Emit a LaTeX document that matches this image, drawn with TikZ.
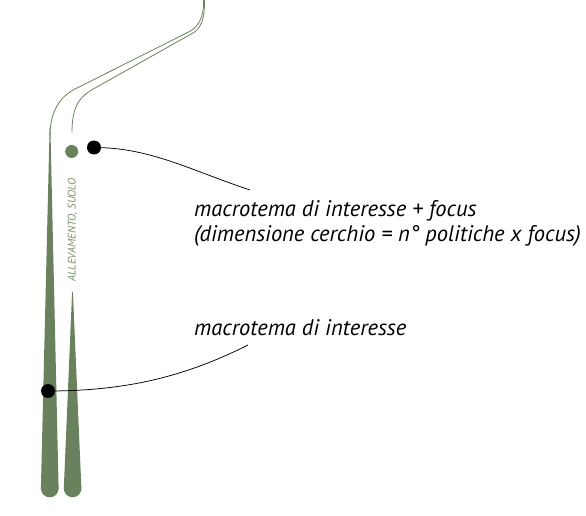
\documentclass[tikz,border=0pt]{standalone}
\usepackage{fontspec}
\setmainfont{PT Sans}
\definecolor{leaf}{RGB}{106,129,94}
\definecolor{leaflight}{RGB}{122,144,110}
\begin{document}
\begin{tikzpicture}[x=1pt,y=-1pt,
  stem/.style={draw=leaf, line width=0.8pt},
  taper/.style={fill=leaf},
  blackdot/.style={circle, fill=black, inner sep=0pt, minimum size=14pt},
  focusdot/.style={circle, fill=leaf, inner sep=0pt, minimum size=13pt},
  lead/.style={draw=black, line width=0.75pt},
  label/.style={font=\fontsize{22.5}{27}\selectfont\itshape, anchor=base west, inner sep=0pt},
  vlabel/.style={font=\fontsize{11}{13}\selectfont\itshape, text=leaflight, rotate=90, inner sep=0pt}]
\useasboundingbox (0,0) rectangle (586,516);
% outer stem (thin part)
\draw[stem] (203.5,-2) -- (203.5,4) .. controls (203.5,17) and (198,27.5) .. (189,31.8)
  -- (75,89) .. controls (60,96.5) and (50,112) .. (50,135);
% inner stem (thin part)
\draw[stem] (204.5,-2) -- (204.5,4) .. controls (204.5,19) and (200.5,29) .. (193,33)
  -- (96,87.5) .. controls (80,96) and (72,105) .. (72,132.5);
% outer taper
\fill[taper] (49.6,128) -- (50.4,128) -- (58.6,488.5) -- (40.9,488.5) -- cycle;
\fill[taper] (49.75,488.5) circle (8.85pt);
% inner taper
\fill[taper] (72.1,292) -- (72.9,292) -- (81.4,488.5) -- (63.8,488.5) -- cycle;
\fill[taper] (72.6,488.5) circle (8.8pt);
% dots
\node[focusdot] (fd) at (71.7,151.5) {};
\node[blackdot] (d1) at (94,147.5) {};
\node[blackdot] (d2) at (48,391) {};
% vertical label
\node[vlabel] (vl) at (72.5,230) {ALLEVAMENTO, SUOLO};
% labels
\node[label] (t1a) at (194,216) {macrotema di interesse + focus};
\node[label] (t1b) at (194,241) {(dimensione cerchio = n° politiche x focus)};
\node[label] (t2) at (194,335) {macrotema di interesse};
% leaders
\coordinate (e1) at (250,190);
\coordinate (e2) at (248,345);
\draw[lead] (d1.center) .. controls (150,147.5) and (190,170) .. (e1);
\draw[lead] (d2.center) .. controls (130,391) and (188,375) .. (e2);
\end{tikzpicture}
\end{document}
